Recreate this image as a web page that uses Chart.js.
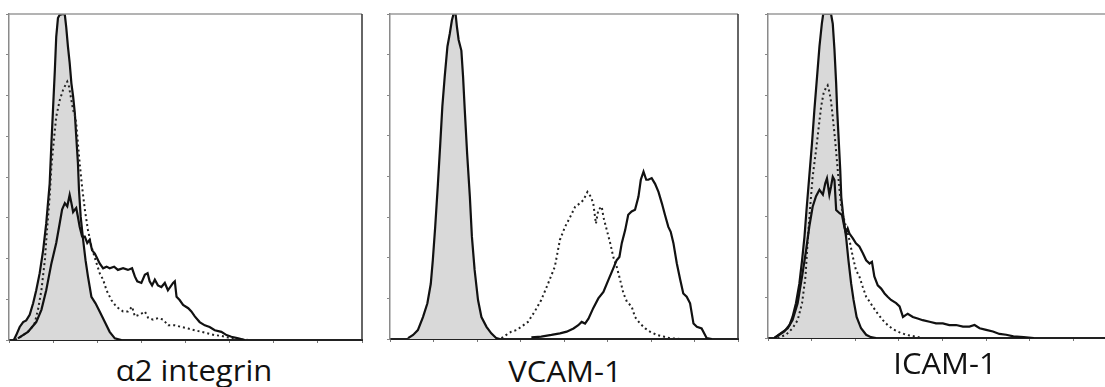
<!DOCTYPE html>
<html>
<head>
<meta charset="utf-8">
<script src="https://cdn.jsdelivr.net/npm/chart.js@4/dist/chart.umd.min.js"></script>
<style>
  html, body { margin: 0; padding: 0; background: #fff; overflow: hidden; width: 1105px; height: 387px; }
  .panel { position: absolute; }
  .label { position: absolute; font-family: "Open Sans", sans-serif; font-size: 29px; color: #111; white-space: nowrap; transform: translateX(-50%) scaleX(1.07); line-height: 1; }
</style>
</head>
<body>
<canvas id="c1" class="panel" width="361" height="334" style="left:3px;top:12px"></canvas>
<canvas id="c2" class="panel" width="356" height="333" style="left:384px;top:12px"></canvas>
<canvas id="c3" class="panel" width="357" height="332" style="left:762px;top:12px"></canvas>
<div id="t1" class="label" style="left:194px;top:355px"></div>
<div id="t2" class="label" style="left:565px;top:356px"></div>
<div id="t3" class="label" style="left:945px;top:348px"></div>
<script>
// x: fluorescence channel (0-1024), y: cell count (0-400)
const titles = ["α2 integrin", "VCAM-1", "ICAM-1"];
const channelMax = 1024, channelStep = 128;
const countMax = 400, countStep = 50;

// α2 integrin
const a2Iso = [[14,0],[21,6],[31,16],[41,22],[50,24],[60,31],[70,45],[79,61],[89,82],[99,110],[108,143],[118,192],[123,241],[128,286],[133,331],[137,372],[142,395],[147,399],[157,400],[162,399],[166,384],[171,360],[176,340],[181,315],[186,299],[191,278],[195,250],[200,217],[203,184],[208,151],[215,123],[222,98],[229,78],[239,53],[251,45],[263,35],[278,22],[292,10],[307,2],[326,0]];
const a2Dot = [[18,0],[41,6],[60,12],[74,20],[84,37],[94,61],[104,98],[111,139],[118,176],[123,213],[131,249],[137,274],[147,294],[157,307],[164,313],[169,317],[174,311],[179,299],[186,282],[191,276],[195,266],[200,241],[205,217],[212,188],[220,160],[229,135],[239,115],[251,98],[263,82],[273,74],[283,61],[297,49],[311,41],[331,35],[345,35],[357,41],[365,29],[379,31],[394,35],[404,27],[418,25],[433,27],[447,25],[462,18],[481,18],[500,16],[520,14],[539,12],[558,10],[578,8],[597,6],[616,5],[636,3],[665,1],[694,0]];
const a2Pos = [[26,2],[55,10],[79,22],[94,37],[108,61],[123,94],[137,119],[147,143],[154,160],[162,168],[169,164],[176,178],[181,168],[186,157],[191,160],[195,162],[200,151],[205,139],[212,127],[220,127],[227,119],[234,123],[241,110],[249,106],[256,100],[263,94],[273,88],[283,90],[292,88],[305,90],[316,86],[331,88],[345,86],[357,88],[365,78],[372,72],[384,70],[394,80],[402,82],[408,72],[415,67],[423,74],[432,67],[442,65],[452,70],[461,61],[476,70],[481,72],[486,53],[495,49],[505,43],[520,39],[529,35],[539,29],[553,22],[568,18],[582,16],[597,12],[616,10],[631,6],[645,4],[665,2],[684,0]];

// VCAM-1
const vcamIso = [[53,1],[68,5],[82,11],[97,27],[110,44],[120,68],[126,97],[133,138],[141,191],[148,241],[154,286],[161,323],[169,360],[176,376],[182,392],[187,400],[193,400],[197,384],[202,368],[210,355],[215,323],[220,282],[227,228],[235,175],[241,126],[249,85],[259,48],[269,27],[284,15],[298,7],[313,1],[323,0]];
const vcamDot = [[328,1],[342,5],[357,9],[372,11],[386,15],[406,21],[426,34],[445,48],[465,68],[485,89],[500,122],[515,138],[530,150],[545,163],[559,167],[569,171],[581,181],[591,175],[598,167],[606,142],[613,159],[623,163],[628,150],[638,134],[648,118],[657,101],[667,89],[677,73],[687,56],[697,46],[711,40],[721,27],[736,19],[751,13],[765,9],[785,5],[805,3],[824,1],[854,0]];
const vcamPos = [[416,2],[445,3],[475,5],[500,7],[520,9],[540,13],[554,17],[564,21],[574,19],[584,25],[598,38],[613,50],[628,58],[643,73],[657,87],[667,97],[675,101],[682,118],[692,134],[701,153],[711,157],[721,159],[731,175],[738,196],[746,206],[754,196],[760,196],[770,198],[780,191],[790,181],[800,167],[809,153],[819,138],[826,132],[834,118],[844,93],[854,73],[863,56],[873,52],[883,44],[893,19],[903,15],[917,13],[932,1],[947,0]];

// ICAM-1
const icamIso = [[19,0],[33,4],[48,8],[63,16],[72,26],[82,43],[92,67],[100,96],[107,125],[113,158],[121,199],[129,240],[136,281],[144,323],[151,360],[158,388],[162,400],[185,400],[190,388],[195,356],[200,314],[203,281],[208,240],[212,207],[215,174],[221,150],[229,125],[236,96],[244,67],[251,47],[260,26],[273,12],[288,4],[302,1],[317,0]];
const icamDot = [[28,0],[53,4],[72,12],[87,22],[100,43],[110,76],[116,117],[123,158],[131,199],[141,232],[149,261],[156,286],[163,302],[170,309],[175,312],[180,304],[185,292],[190,273],[197,244],[202,220],[208,191],[214,166],[221,150],[229,137],[239,121],[249,100],[258,84],[268,76],[278,63],[288,51],[298,45],[307,39],[322,30],[337,22],[351,16],[366,11],[386,7],[405,4],[430,2],[454,0]];
const icamPos = [[19,0],[38,6],[58,12],[72,22],[87,43],[100,76],[112,109],[121,137],[131,162],[141,175],[151,183],[161,177],[168,191],[173,197],[180,177],[185,187],[190,199],[195,195],[200,158],[210,154],[217,152],[224,137],[229,129],[234,135],[239,129],[249,123],[258,117],[268,113],[278,105],[288,96],[298,92],[305,94],[312,76],[322,65],[332,61],[342,55],[351,51],[361,47],[376,43],[386,39],[396,26],[410,30],[425,26],[439,24],[454,22],[474,20],[493,18],[513,18],[532,16],[552,16],[572,14],[591,14],[606,16],[621,12],[640,10],[660,8],[679,5],[699,4],[720,2],[750,1],[780,0]];

const toPts = (arr) => arr.map(([x, y]) => ({ x, y }));

// top and right edges of the plot box
const framePlugin = {
  id: "frame",
  afterDraw(chart) {
    const { ctx, chartArea: a } = chart;
    ctx.save();
    ctx.lineWidth = 1.5;
    ctx.strokeStyle = "#9a9a9a";
    ctx.beginPath();
    ctx.moveTo(a.left, a.top);
    ctx.lineTo(a.right, a.top);
    ctx.stroke();
    ctx.strokeStyle = "#333";
    ctx.beginPath();
    ctx.moveTo(a.right, a.top);
    ctx.lineTo(a.right, a.bottom);
    ctx.stroke();
    ctx.restore();
  },
};

function makeHist(id, iso, dot, pos) {
  new Chart(document.getElementById(id), {
    type: "line",
    data: {
      datasets: [
        {
          data: toPts(pos),
          borderColor: "#111",
          borderWidth: 2.2,
          pointRadius: 0,
          fill: false,
          order: 1,
        },
        {
          data: toPts(dot),
          borderColor: "#222",
          borderWidth: 2,
          borderDash: [2, 3],
          pointRadius: 0,
          fill: false,
          order: 2,
        },
        {
          data: toPts(iso),
          borderColor: "#111",
          borderWidth: 2.2,
          backgroundColor: "#d9d9d9",
          pointRadius: 0,
          fill: "origin",
          order: 3,
        },
      ],
    },
    options: {
      responsive: false,
      animation: false,
      devicePixelRatio: 1,
      layout: { padding: { top: 2, right: 2, left: 0, bottom: 0 } },
      plugins: { legend: { display: false }, tooltip: { enabled: false } },
      scales: {
        x: {
          type: "linear",
          min: 0,
          max: channelMax,
          ticks: { display: false, stepSize: channelStep },
          grid: { drawOnChartArea: false, drawTicks: true, tickLength: 3, color: "#777" },
          border: { color: "#222", width: 2 },
          afterFit: (s) => { s.height = 6; },
        },
        y: {
          min: 0,
          max: countMax,
          ticks: { display: false, stepSize: countStep },
          grid: { drawOnChartArea: false, drawTicks: true, tickLength: 3, color: "#888" },
          border: { color: "#8a8a8a", width: 1.5 },
          afterFit: (s) => { s.width = 6; },
        },
      },
    },
    plugins: [framePlugin],
  });
}

makeHist("c1", a2Iso, a2Dot, a2Pos);
makeHist("c2", vcamIso, vcamDot, vcamPos);
makeHist("c3", icamIso, icamDot, icamPos);

["t1", "t2", "t3"].forEach((id, i) => {
  document.getElementById(id).textContent = titles[i];
});
</script>
</body>
</html>
